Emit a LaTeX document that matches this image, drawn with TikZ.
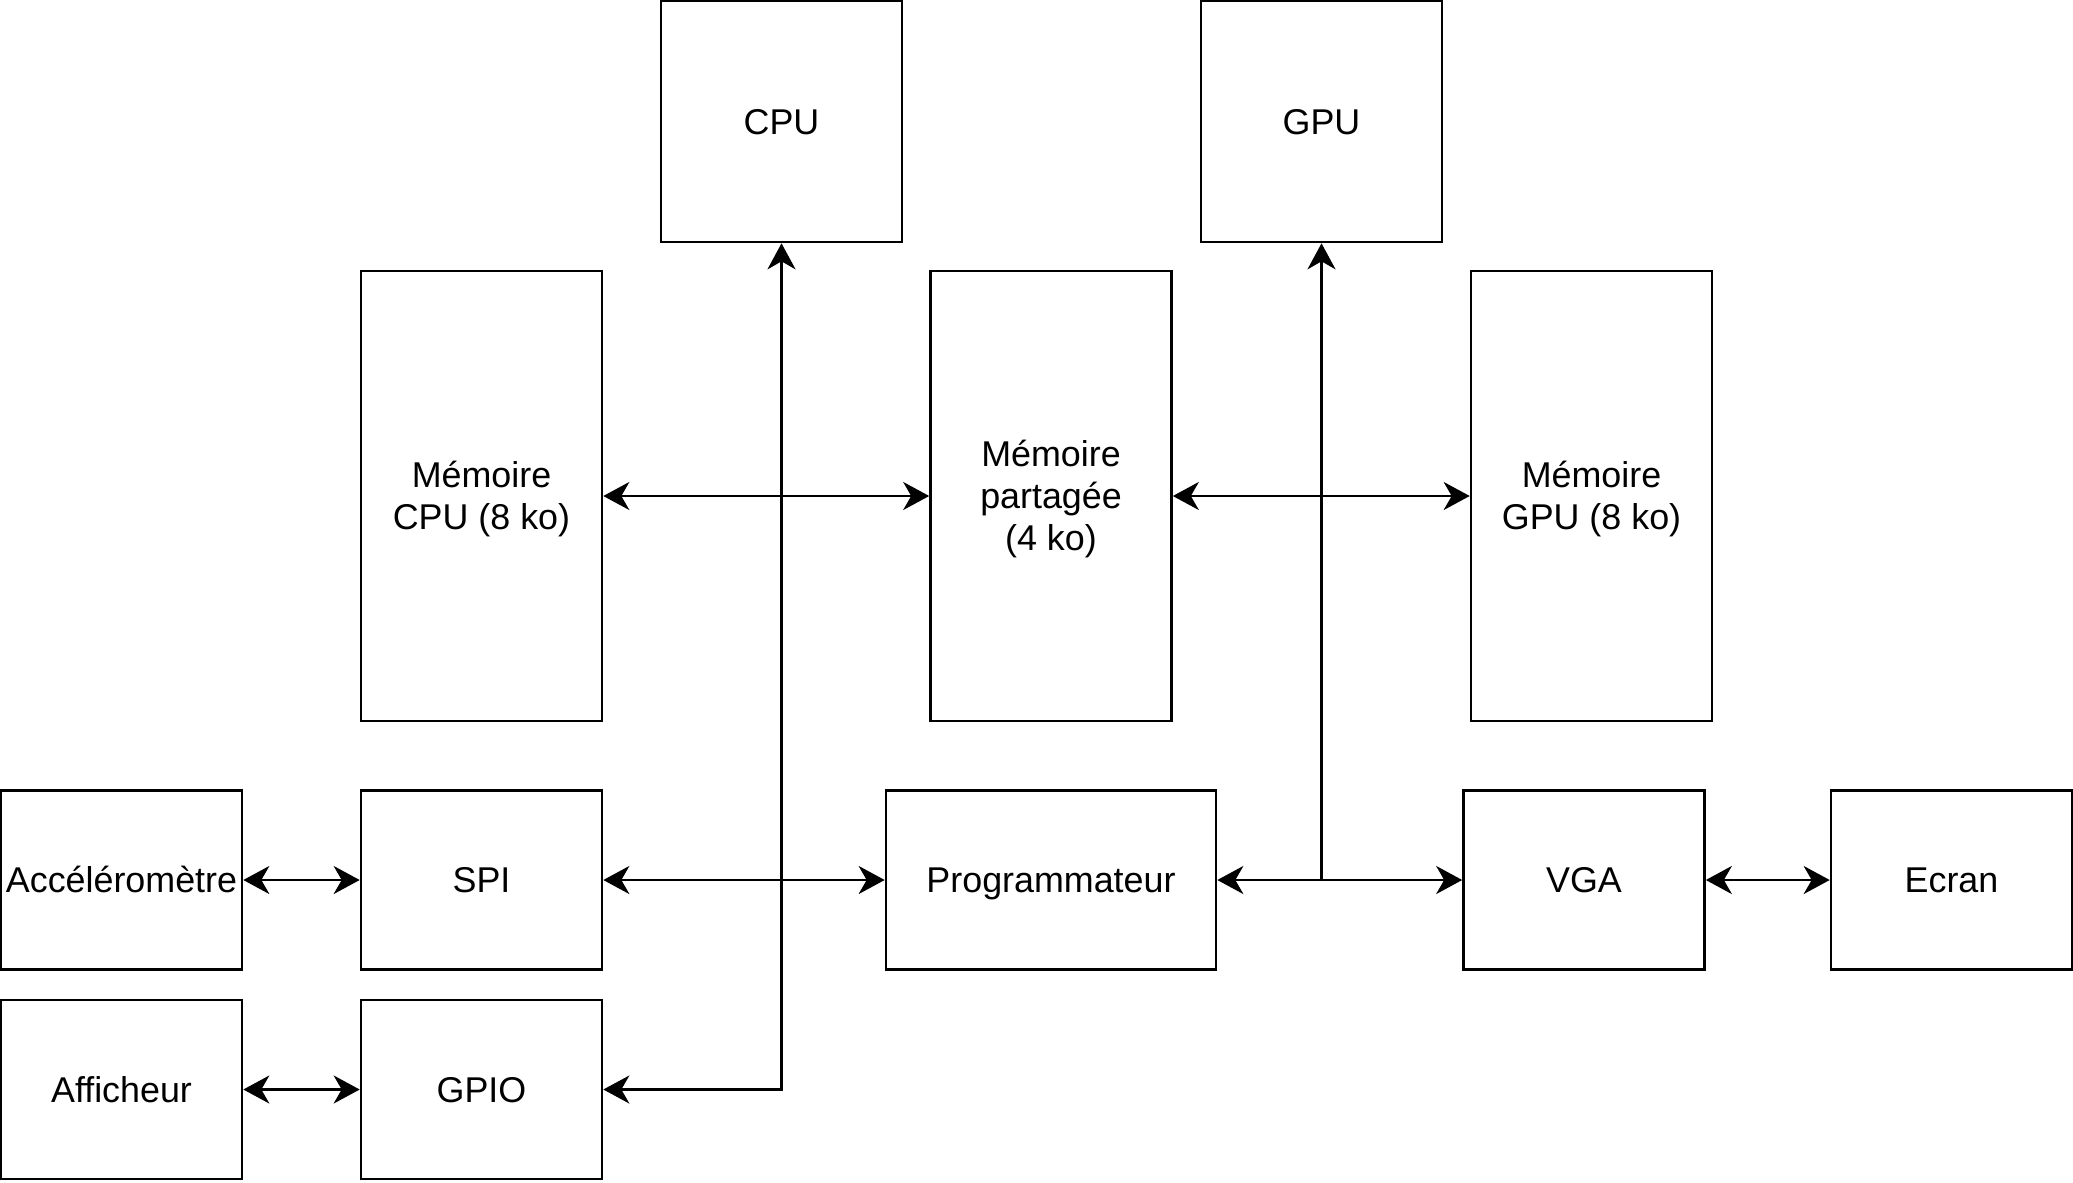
\documentclass[tikz,border=0pt]{standalone}
\usepackage{fontspec}
\setmainfont{Liberation Sans}
\usepackage{tikz}
\usetikzlibrary{calc}
\usetikzlibrary{arrows.meta}
\usetikzlibrary{positioning}
\tikzset{>={Stealth[length=2.6mm, width=2.8mm, inset=0.8mm]}}
\tikzstyle{blk} = [rectangle, draw=black, line width=0.75pt, inner sep=0, align=center, text height=0.72em, text depth=0pt, font=\fontsize{10.2}{12}\selectfont]
\tikzstyle{sq} = [blk, minimum width=2.41cm, minimum height=2.41cm]
\tikzstyle{mem} = [blk, minimum width=2.41cm, minimum height=4.50cm, text height=12pt+0.72em]
\tikzstyle{io} = [blk, minimum width=2.41cm, minimum height=1.79cm]
\tikzstyle{bus} = [line width=0.75pt]

\begin{document}
\begin{tikzpicture}
\useasboundingbox (0,0) rectangle (20.73,11.82);
% processeurs
\node [sq] (CPU) at (7.815, 10.605) {CPU};
\node [sq] (GPU) at (13.215, 10.605) {GPU};
% memoires
\node [mem] (MC) at (4.815, 6.86) {Mémoire\\CPU (8 ko)};
\node [mem, text height=24pt+0.72em] (MP) at (10.51, 6.86) {Mémoire\\partagée\\(4 ko)};
\node [mem] (MG) at (15.915, 6.86) {Mémoire\\GPU (8 ko)};
% peripheriques
\node [io] (ACC) at (1.215, 3.02) {Accéléromètre};
\node [io] (SPI) at (4.815, 3.02) {SPI};
\node [io, minimum width=3.30cm] (PRG) at (10.51, 3.02) {Programmateur};
\node [io] (VGA) at (15.84, 3.02) {VGA};
\node [io] (ECR) at (19.515, 3.02) {Ecran};
\node [io] (AFF) at (1.215, 0.925) {Afficheur};
\node [io] (GPIO) at (4.815, 0.925) {GPIO};
\coordinate (G) at (GPU.south |- PRG.east);
% liaisons
\draw [bus, <->] (GPIO.east) -| (CPU.south);
\draw [bus, <->] (MC) to (MP);
\draw [bus, <->] (MP) to (MG);
\draw [bus, <->] (SPI) to (PRG);
\draw [bus, <->] (PRG) to (VGA);
\draw [bus, ->] (G) to (GPU.south);
\draw [bus, <->] (ACC) to (SPI);
\draw [bus, <->] (AFF) to (GPIO);
\draw [bus, <->] (VGA) to (ECR);
\end{tikzpicture}
\end{document}
